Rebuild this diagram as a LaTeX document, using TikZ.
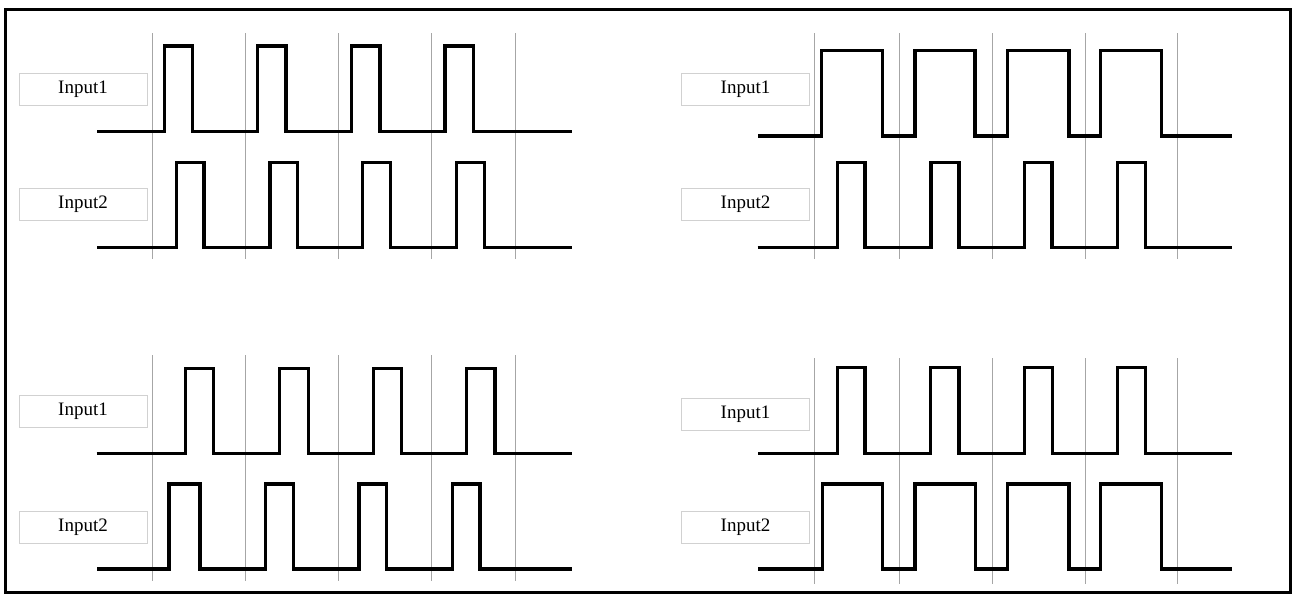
\documentclass[tikz,border=0pt]{standalone}
\usepackage{fontspec}
\setmainfont{Liberation Serif}
\begin{document}
\begin{tikzpicture}[x=1pt,y=-1pt,
  wave/.style={line width=3.4pt, line join=miter, line cap=butt},
  gridline/.style={draw=black!35, line width=1pt},
  labelbox/.style={draw=black!18, line width=0.9pt, inner sep=0pt, minimum width=128pt, minimum height=32pt, font=\fontsize{19}{22}\selectfont}]
\useasboundingbox (0,0) rectangle (1293,595);
\draw[line width=3pt] (5,9) rectangle (1290,592.5);
% grid lines
\foreach \x in {152.7,245.7,338.3,431,515}{
  \draw[gridline] (\x,33) -- (\x,259);
  \draw[gridline] (\x,355) -- (\x,581);
}
\foreach \x in {814.3,899,992,1085,1177}{
  \draw[gridline] (\x,33) -- (\x,259);
  \draw[gridline] (\x,358) -- (\x,584);
}
% labels
\node[labelbox] (tl1) at (83,89) {Input1};
\node[labelbox] (tl2) at (83,204.5) {Input2};
\node[labelbox] (tr1) at (745.5,89) {Input1};
\node[labelbox] (tr2) at (745.5,204.5) {Input2};
\node[labelbox] (bl1) at (83,411) {Input1};
\node[labelbox] (bl2) at (83,527) {Input2};
\node[labelbox] (br1) at (745.5,414) {Input1};
\node[labelbox] (br2) at (745.5,527) {Input2};
% waveforms top-left
\draw[wave] (97,131.7) -| (164.3,46) -| (192.3,131.7) -| (257.7,46) -| (286,131.7)
  -| (351.7,46) -| (380,131.7) -| (445,46) -| (473.3,131.7) -- (571.7,131.7);
\draw[wave] (97,247.3) -| (176.7,162.3) -| (204,247.3) -| (270,162.3) -| (297.7,247.3)
  -| (362.7,162.3) -| (390.7,247.3) -| (456.7,162.3) -| (484.3,247.3) -- (572,247.3);
% top-right
\draw[wave] (758.3,136) -| (821.7,50.7) -| (882.7,136) -| (915,50.7) -| (975,136)
  -| (1007.7,50.7) -| (1069,136) -| (1100.7,50.7) -| (1161.7,136) -- (1231.7,136);
\draw[wave] (757.7,247.3) -| (837.7,162.3) -| (865,247.3) -| (931,162.3) -| (959,247.3)
  -| (1024.3,162.3) -| (1052,247.3) -| (1117.7,162.3) -| (1145.7,247.3) -- (1232,247.3);
% bottom-left
\draw[wave] (96.7,453.3) -| (185.7,368.3) -| (213.3,453.3) -| (279.3,368.3) -| (308.3,453.3)
  -| (373.3,368.3) -| (401.7,453.3) -| (466.7,368.3) -| (495,453.3) -- (571.7,453.3);
\draw[wave] (97,569) -| (169,484) -| (200,569) -| (265.7,484) -| (293.3,569)
  -| (359,484) -| (386.7,569) -| (452.7,484) -| (480,569) -- (572,569);
% bottom-right
\draw[wave] (758.3,453.3) -| (837.7,367.7) -| (865,453.3) -| (930.7,367.7) -| (959,453.3)
  -| (1024.3,367.7) -| (1052.3,453.3) -| (1117.7,367.7) -| (1145.7,453.3) -- (1231.7,453.3);
\draw[wave] (758,569) -| (822.3,484) -| (882.7,569) -| (915,484) -| (975.7,569)
  -| (1007.7,484) -| (1069,569) -| (1100.7,484) -| (1161.7,569) -- (1231.7,569);
\end{tikzpicture}
\end{document}
